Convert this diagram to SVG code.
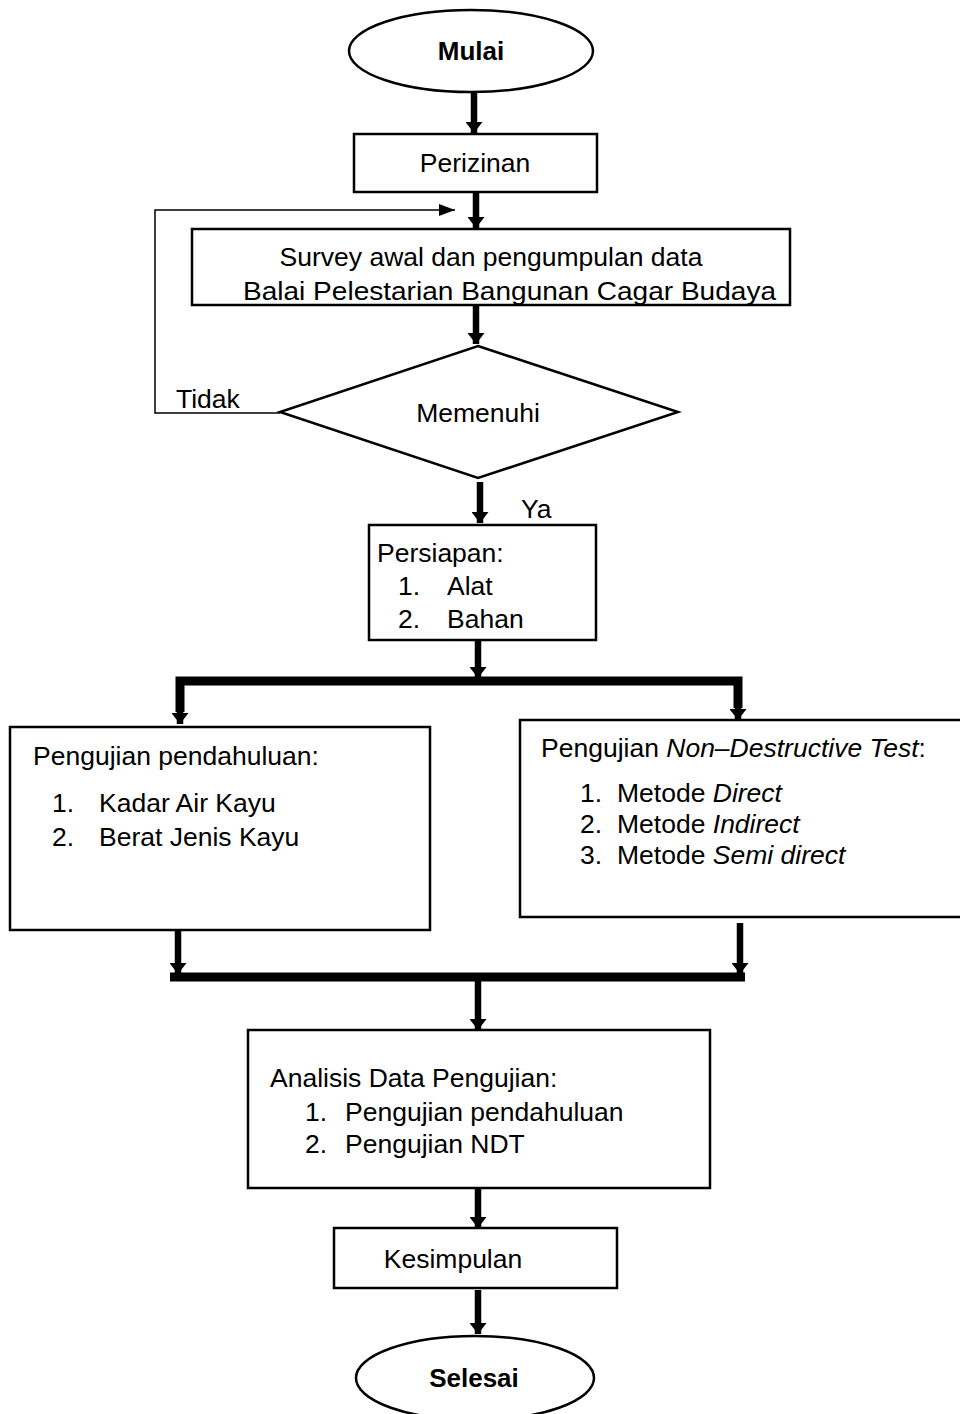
<svg xmlns="http://www.w3.org/2000/svg" width="960" height="1414" viewBox="0 0 960 1414">
<style>
.box{fill:#fff;stroke:#000;stroke-width:2.5}
.t{font-family:"Liberation Sans",Arial,sans-serif;font-size:26.5px;fill:#000}
.b{font-weight:bold;font-size:26px}
.thick{stroke:#000;stroke-width:6.5;fill:none}
.bar{stroke:#000;stroke-width:9;fill:none}
.thin{stroke:#000;stroke-width:1.5;fill:none}
</style>
<defs>
<marker id="arr" markerUnits="userSpaceOnUse" viewBox="0 0 16 12" markerWidth="16" markerHeight="12" refX="16" refY="6" orient="auto">
<path d="M0,0 L16,6 L0,12 Z" fill="#000"/>
</marker>
<marker id="big" markerUnits="userSpaceOnUse" viewBox="0 0 11 17" markerWidth="11" markerHeight="17" refX="11" refY="8.5" orient="auto">
<path d="M0,0 L11,8.5 L0,17 Z" fill="#000"/>
</marker>
<clipPath id="sc"><rect x="193" y="230" width="596" height="74"/></clipPath>
</defs>

<g id="connectors">
<line class="thick" x1="474" y1="93" x2="474" y2="133" marker-end="url(#big)"/>
<line class="thick" x1="476" y1="192" x2="476" y2="228" marker-end="url(#big)"/>
<line class="thick" x1="476" y1="305" x2="476" y2="344" marker-end="url(#big)"/>
<polyline class="thin" points="280,413 155,413 155,210 455,210" marker-end="url(#arr)"/>
<line class="thick" x1="480" y1="482" x2="480" y2="523" marker-end="url(#big)"/>
<line class="thick" x1="478" y1="641" x2="478" y2="678" marker-end="url(#big)"/>
<polyline class="bar" points="180,712 180,681 738,681 738,708"/>
<line class="thick" x1="180" y1="700" x2="180" y2="724" marker-end="url(#big)"/>
<line class="thick" x1="738" y1="700" x2="738" y2="720" marker-end="url(#big)"/>
<line class="thick" x1="178" y1="930" x2="178" y2="974" marker-end="url(#big)"/>
<line class="thick" x1="740" y1="923" x2="740" y2="974" marker-end="url(#big)"/>
<line class="bar" x1="170" y1="977" x2="745" y2="977"/>
<line class="thick" x1="478" y1="977" x2="478" y2="1030" marker-end="url(#big)"/>
<line class="thick" x1="478" y1="1188" x2="478" y2="1228" marker-end="url(#big)"/>
<line class="thick" x1="478" y1="1290" x2="478" y2="1334" marker-end="url(#big)"/>
</g>

<g id="mulai">
<ellipse class="box" cx="471" cy="51" rx="122" ry="41"/>
<text class="t b" x="471" y="60" text-anchor="middle">Mulai</text>
</g>

<g id="perizinan">
<rect class="box" x="354" y="134" width="243" height="58"/>
<text class="t" x="475" y="172" text-anchor="middle">Perizinan</text>
</g>

<g id="survey">
<g clip-path="url(#sc)">
<text class="t" x="491" y="266" text-anchor="middle">Survey awal dan pengumpulan data</text>
<text class="t" x="243" y="300" textLength="533" lengthAdjust="spacingAndGlyphs">Balai Pelestarian Bangunan Cagar Budaya</text>
</g>
<rect class="box" x="192" y="229" width="598" height="76" style="fill:none"/>
</g>

<g id="memenuhi">
<polygon class="box" points="478,346 678,412 478,478 280,412"/>
<text class="t" x="478" y="422" text-anchor="middle">Memenuhi</text>
</g>

<g id="labels">
<text class="t" x="176" y="408">Tidak</text>
<text class="t" x="521" y="518">Ya</text>
</g>

<g id="persiapan">
<rect class="box" x="369" y="525" width="227" height="115"/>
<text class="t" x="377" y="562">Persiapan:</text>
<text class="t" x="398" y="595">1.</text>
<text class="t" x="447" y="595">Alat</text>
<text class="t" x="398" y="628">2.</text>
<text class="t" x="447" y="628">Bahan</text>
</g>

<g id="pendahuluan">
<rect class="box" x="10" y="727" width="420" height="203"/>
<text class="t" x="33" y="765">Pengujian pendahuluan:</text>
<text class="t" x="52" y="812">1.</text>
<text class="t" x="99" y="812">Kadar Air Kayu</text>
<text class="t" x="52" y="846">2.</text>
<text class="t" x="99" y="846">Berat Jenis Kayu</text>
</g>

<g id="ndt">
<rect class="box" x="520" y="720" width="445" height="197"/>
<text class="t" x="541" y="757">Pengujian <tspan font-style="italic">Non–Destructive Test</tspan>:</text>
<text class="t" x="580" y="802">1.</text>
<text class="t" x="617" y="802">Metode <tspan font-style="italic">Direct</tspan></text>
<text class="t" x="580" y="833">2.</text>
<text class="t" x="617" y="833">Metode <tspan font-style="italic">Indirect</tspan></text>
<text class="t" x="580" y="864">3.</text>
<text class="t" x="617" y="864">Metode <tspan font-style="italic">Semi direct</tspan></text>
</g>

<g id="analisis">
<rect class="box" x="248" y="1030" width="462" height="158"/>
<text class="t" x="270" y="1087">Analisis Data Pengujian:</text>
<text class="t" x="305" y="1121">1.</text>
<text class="t" x="345" y="1121">Pengujian pendahuluan</text>
<text class="t" x="305" y="1153">2.</text>
<text class="t" x="345" y="1153">Pengujian NDT</text>
</g>

<g id="kesimpulan">
<rect class="box" x="334" y="1228" width="283" height="60"/>
<text class="t" x="453" y="1268" text-anchor="middle">Kesimpulan</text>
</g>

<g id="selesai">
<ellipse class="box" cx="475" cy="1378" rx="119" ry="42"/>
<text class="t b" x="474" y="1387" text-anchor="middle">Selesai</text>
</g>
</svg>
